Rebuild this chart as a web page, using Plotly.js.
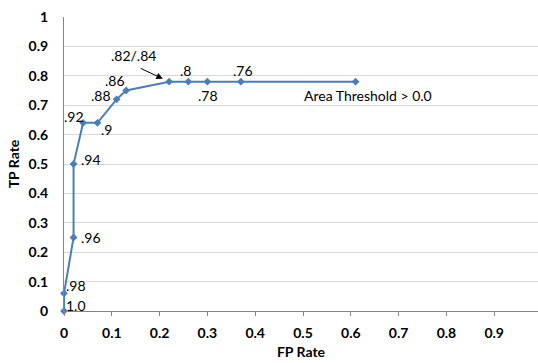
<!DOCTYPE html>
<html>
<head>
<meta charset="utf-8">
<script src="https://cdn.plot.ly/plotly-3.0.1.min.js"></script>
<style>
  html, body { margin: 0; padding: 0; background: #fff; }
  #chart { width: 538px; height: 363px; }
</style>
</head>
<body>
<div id="chart"></div>
<script>
// ---- data ----
const fpRate = [0, 0, 0.02, 0.02, 0.04, 0.07, 0.11, 0.13, 0.22, 0.26, 0.30, 0.37, 0.61];
const tpRate = [0, 0.06, 0.25, 0.50, 0.64, 0.64, 0.72, 0.75, 0.78, 0.78, 0.78, 0.78, 0.78];
const thresholdLabels = ['1.0', '.98', '.96', '.94', '.92', '.9', '.88', '.86', '.82/.84', '.8', '.78', '.76', 'Area Threshold > 0.0'];
const xTickVals = [0, 0.1, 0.2, 0.3, 0.4, 0.5, 0.6, 0.7, 0.8, 0.9];
const xTickText = ['0', '0.1', '0.2', '0.3', '0.4', '0.5', '0.6', '0.7', '0.8', '0.9'];

// ---- label placement (pixel offsets from each point: [dx, dy-down]) ----
const labelOffsets = [
  [12, -6], [12, -8], [17, 0], [17, -5], [-9, -6], [9, 7], [-16, -4],
  [-11.5, -10], [-36, -26], [-2.5, -11], [1, 14], [2, -11], null
];

const FONT = 'Lato, "Open Sans", "DejaVu Sans", sans-serif';
const LINE = '#4a7ebb';
const FS = 14;

const annotations = [];
thresholdLabels.forEach((t, i) => {
  const base = { x: fpRate[i], y: tpRate[i], xref: 'x', yref: 'y', text: t,
    font: { family: FONT, size: FS, color: '#000' }, showarrow: false };
  if (i === thresholdLabels.length - 1) {
    Object.assign(base, { xanchor: 'left', yanchor: 'middle', xshift: -54, yshift: -14 });
  } else {
    const o = labelOffsets[i];
    Object.assign(base, { xanchor: 'center', yanchor: 'middle', xshift: o[0], yshift: -o[1] });
  }
  annotations.push(base);
  if (t === '.82/.84') {
    // callout arrow pointing at this point
    annotations.push({ x: fpRate[i], y: tpRate[i], xref: 'x', yref: 'y', text: '',
      showarrow: true, ax: -30, ay: -14, arrowhead: 2, arrowsize: 1.3,
      arrowwidth: 1, arrowcolor: '#000', standoff: 7 });
  }
});

const trace = {
  x: fpRate, y: tpRate, type: 'scatter', mode: 'lines+markers',
  line: { color: LINE, width: 2 },
  marker: { symbol: 'diamond', size: 6, color: LINE },
  hoverinfo: 'skip', cliponaxis: false
};

const layout = {
  width: 538, height: 363,
  margin: { l: 64, r: 0, t: 17, b: 52, pad: 0 },
  paper_bgcolor: '#fff', plot_bgcolor: '#fff',
  showlegend: false,
  font: { family: FONT, size: FS, color: '#000' },
  xaxis: {
    range: [0, 0.9916], tickvals: xTickVals, ticktext: xTickText,
    showgrid: false, zeroline: false, showline: true, linecolor: '#868686', linewidth: 1,
    ticks: 'outside', ticklen: 4, tickcolor: '#868686', tickwidth: 1,
    tickfont: { family: FONT, size: FS, color: '#000', weight: 'bold' },
    ticklabelstandoff: 5,
    title: { text: 'FP Rate', font: { family: FONT, size: FS, color: '#000', weight: 'bold' }, standoff: 7 },
    fixedrange: true
  },
  yaxis: {
    range: [0, 1], dtick: 0.1, tick0: 0,
    showgrid: true, gridcolor: '#d9d9d9', gridwidth: 1,
    zeroline: false, showline: true, linecolor: '#868686', linewidth: 1,
    ticks: '', ticklabelstandoff: 12,
    tickfont: { family: FONT, size: FS, color: '#000', weight: 'bold' },
    title: { text: 'TP Rate', font: { family: FONT, size: FS, color: '#000', weight: 'bold' }, standoff: 5 },
    fixedrange: true
  },
  annotations: annotations
};

Plotly.newPlot('chart', [trace], layout, { staticPlot: true, displayModeBar: false });
</script>
</body>
</html>
